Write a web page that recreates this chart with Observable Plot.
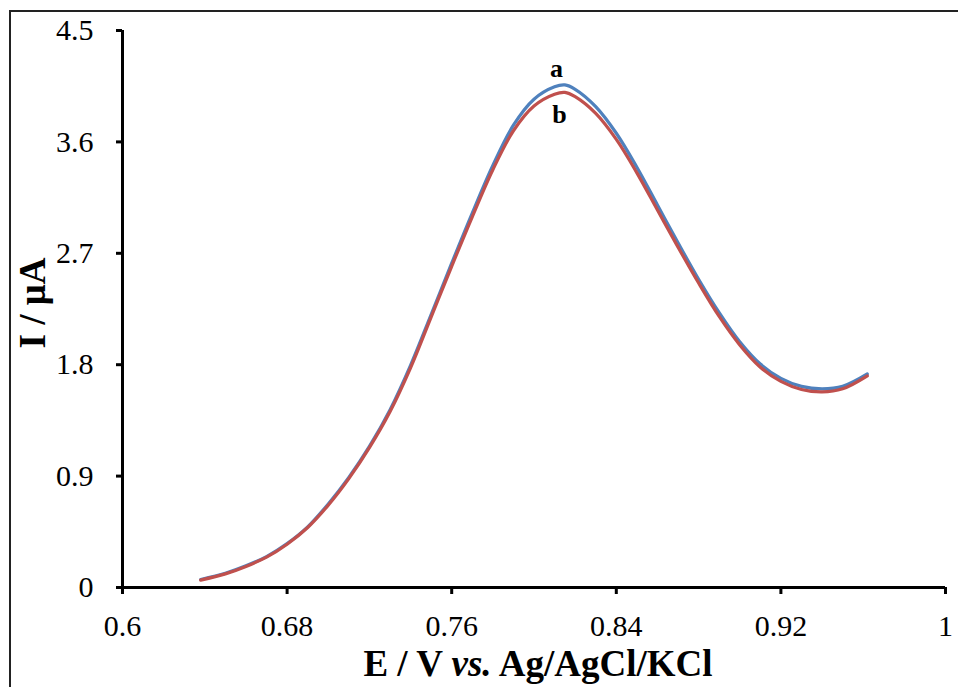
<!DOCTYPE html>
<html>
<head>
<meta charset="utf-8">
<script src="https://cdn.jsdelivr.net/npm/d3@7"></script>
<script src="https://cdn.jsdelivr.net/npm/@observablehq/plot@0.6"></script>
<style>
  html, body { margin: 0; padding: 0; background: #fff; }
  #wrap { position: relative; width: 958px; height: 687px; overflow: hidden; }
  #frame { position: absolute; left: 9px; top: 10px; width: 980px; height: 700px;
           border-left: 2px solid #222; border-top: 2px solid #222; pointer-events: none; }
  #chart { position: absolute; left: 0; top: 0; }
</style>
</head>
<body>
<div id="wrap"><div id="chart"></div><div id="frame"></div></div>
<script>
// Potential (V) sample positions
const potential = [0.638,0.65,0.66,0.67,0.68,0.69,0.70,0.71,0.72,0.73,0.74,0.75,0.76,0.77,0.78,0.79,0.80,0.81,0.815,0.82,0.83,0.84,0.85,0.86,0.87,0.88,0.89,0.90,0.91,0.92,0.93,0.94,0.95,0.962];
// Curve b (red)
const currentB = [0.06,0.11,0.17,0.245,0.35,0.485,0.665,0.88,1.13,1.42,1.775,2.185,2.595,2.995,3.375,3.69,3.89,3.985,4.00,3.965,3.83,3.62,3.35,3.05,2.75,2.46,2.19,1.96,1.78,1.665,1.60,1.58,1.605,1.71];
// Curve a (blue)
const currentA = [0.065,0.115,0.175,0.25,0.355,0.49,0.675,0.89,1.14,1.435,1.795,2.205,2.62,3.025,3.41,3.735,3.945,4.045,4.06,4.025,3.885,3.67,3.395,3.09,2.785,2.49,2.22,1.985,1.805,1.69,1.625,1.605,1.625,1.725];
const xTicks = [0.6, 0.68, 0.76, 0.84, 0.92, 1];
const yTicks = [0, 0.9, 1.8, 2.7, 3.6, 4.5];
const labelNames = ["a", "b"];
const labelE = [0.8109, 0.8124];
const labelI = [4.128, 3.756];
const colorA = "#4f81bd";
const colorB = "#c0504d";

const dataA = potential.map((e, i) => ({E: e, I: currentA[i]}));
const dataB = potential.map((e, i) => ({E: e, I: currentB[i]}));
const labels = labelNames.map((t, i) => ({t, E: labelE[i], I: labelI[i]}));

const chart = Plot.plot({
  width: 958,
  height: 687,
  marginLeft: 122,
  marginRight: 13,
  marginTop: 30,
  marginBottom: 100,
  style: { fontFamily: "'Liberation Serif', 'Times New Roman', serif", background: "transparent", color: "#000" },
  x: { domain: [0.6, 1] },
  y: { domain: [0, 4.5] },
  marks: [
    Plot.axisX(xTicks, { tickSize: 7, tickPadding: 20, strokeWidth: 3, fontSize: 30, label: null, tickFormat: d => String(d), fill: "#000" }),
    Plot.axisY(yTicks, { tickSize: 6, tickPadding: 23, strokeWidth: 3, fontSize: 30, label: null, tickFormat: d => String(d), fill: "#000" }),
    Plot.ruleY([0], { stroke: "#000", strokeWidth: 3 }),
    Plot.ruleX([0.6], { stroke: "#000", strokeWidth: 3 }),
    Plot.line(dataA, { x: "E", y: "I", stroke: colorA, strokeWidth: 3.2, curve: "catmull-rom" }),
    Plot.line(dataB, { x: "E", y: "I", stroke: colorB, strokeWidth: 3.2, curve: "catmull-rom" }),
    Plot.text(labels, { x: "E", y: "I", text: "t", fontSize: 26, fontWeight: "bold", lineAnchor: "bottom", fill: "#000" })
  ]
});
document.getElementById("chart").appendChild(chart);

const svg = d3.select(chart);
const xt = svg.append("text")
  .attr("x", 538).attr("y", 676)
  .attr("text-anchor", "middle")
  .attr("font-size", 37).attr("font-weight", "bold").attr("fill", "#000");
xt.append("tspan").text("E / V ");
xt.append("tspan").attr("font-style", "italic").text("vs.");
xt.append("tspan").text(" Ag/AgCl/KCl");

svg.append("text")
  .attr("transform", "translate(45,303) rotate(-90)")
  .attr("text-anchor", "middle")
  .attr("font-size", 37).attr("font-weight", "bold").attr("fill", "#000")
  .text("I / μA");
</script>
</body>
</html>
